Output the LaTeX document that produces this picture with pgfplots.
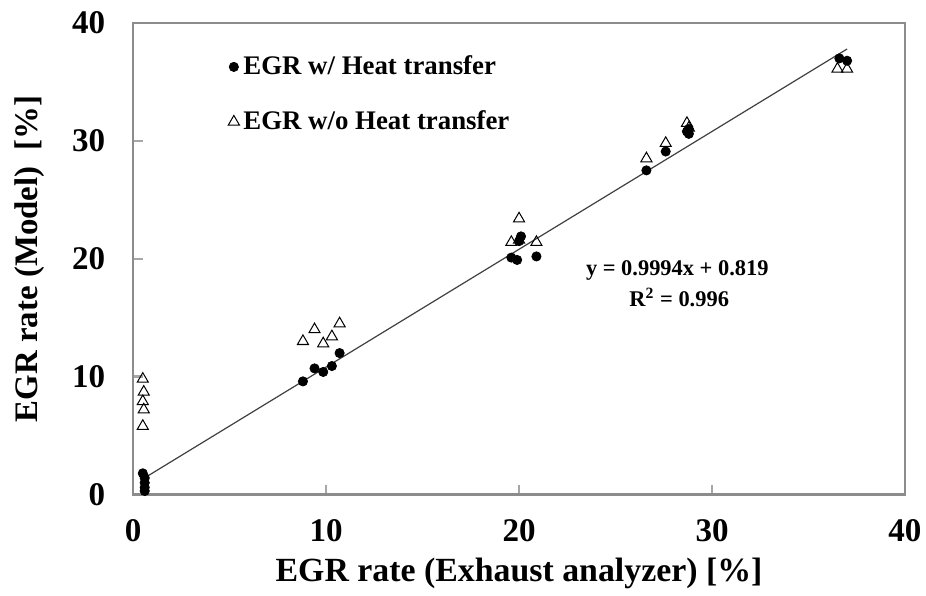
\documentclass[border=0pt]{standalone}
\usepackage{pgfplots}
\pgfplotsset{compat=1.18}
\usepackage{fontspec}
\setmainfont{Liberation Serif}
\begin{document}
\begin{tikzpicture}
\begin{axis}[
  scale only axis,
  width=385.5pt, height=235.5pt,
  xmin=0, xmax=40, ymin=0, ymax=40,
  xtick={0,10,20,30,40}, ytick={0,10,20,30,40},
  axis line style={draw=gray!90, line width=1.2pt},
  tick style={draw=gray!70, line width=1.2pt},
  tick align=inside, major tick length=5pt,
  xtick pos=bottom, ytick pos=left,
  /pgf/number format/assume math mode=true,
  tick label style={font=\fontsize{16.5}{18}\selectfont\bfseries},
  yticklabel style={xshift=-10.5pt},
  xticklabel style={yshift=-9pt},
  xlabel={EGR rate (Exhaust analyzer) [\%]},
  ylabel={EGR rate (Model)\ \ [\%]},
  xlabel style={font=\fontsize{16.9}{18}\selectfont\bfseries, yshift=-1pt},
  ylabel style={font=\fontsize{16.4}{18}\selectfont\bfseries, yshift=7pt},
  legend style={at={(0.115,0.948)}, anchor=north west, draw=none, fill=none,
    font=\fontsize{13.4}{15}\selectfont\bfseries, row sep=12.5pt,
    /tikz/every even column/.append style={column sep=0pt}},
  legend cell align=left,
  legend image code/.code={\draw[#1] plot coordinates {(0.15cm,0cm)};},
  clip=false,
]
\addplot[only marks, mark=*, mark size=2.3pt, draw=black, fill=black] coordinates {
(0.5,1.8) (0.6,1.4) (0.6,1.0) (0.6,0.6) (0.6,0.3)
(8.8,9.6) (9.4,10.7) (9.85,10.4) (10.3,10.9) (10.7,12.0)
(19.6,20.1) (19.9,19.9) (20.0,21.5) (20.1,21.9) (20.9,20.2)
(26.6,27.5) (27.6,29.1) (28.8,30.6) (28.8,31.0) (28.7,30.8)
(36.6,37.0) (37.0,36.8)
};
\addlegendentry{EGR w/ Heat transfer}
\addplot[only marks, mark=triangle, mark size=3.2pt, draw=black, line width=0.5pt] coordinates {
(0.5,9.8) (0.55,8.7) (0.5,7.9) (0.55,7.2) (0.5,5.8)
(8.8,13.0) (9.4,14.0) (9.85,12.8) (10.3,13.4) (10.7,14.5)
(20.0,23.4) (19.6,21.4) (20.0,21.6) (20.9,21.4)
(26.6,28.5) (27.6,29.8) (28.7,31.5) (28.8,31.1)
(36.5,36.1) (37.0,36.1)
};
\addlegendentry{EGR w/o Heat transfer}
\addplot[draw=black!75, line width=0.6pt, forget plot] coordinates {(0.5,1.319) (37.0,37.797)};
\node[font=\fontsize{11.2}{12}\selectfont\bfseries, align=center] at (axis cs:28.2,19.0) {y = 0.9994x + 0.819};
\node[font=\fontsize{11.2}{12}\selectfont\bfseries, align=center] at (axis cs:28.3,16.7) {R\textsuperscript{2} = 0.996};
\end{axis}
\pgfresetboundingbox
\path (current axis.south west) ++(-66.5pt,-50.5pt) coordinate (bl);
\path (current axis.north east) ++(10.5pt,11.5pt) coordinate (tr);
\path[use as bounding box] (bl) rectangle (tr);
\end{tikzpicture}
\end{document}
